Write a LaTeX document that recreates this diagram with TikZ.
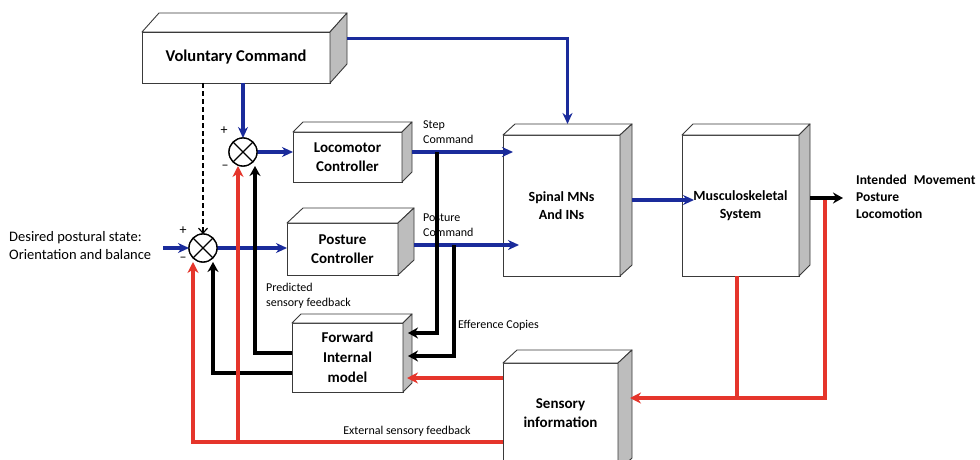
\documentclass[tikz,border=0pt]{standalone}
\usepackage{fontspec}
\setmainfont{Carlito}
\usetikzlibrary{arrows.meta,calc}
\definecolor{cblue}{HTML}{1A2B9B}
\definecolor{cred}{HTML}{E5352B}
\definecolor{cside}{HTML}{BDBDBD}
\definecolor{cedge}{HTML}{3A3A3A}
\newcommand\cubefaces[3]{%
 \draw[faceedge,fill=white] (#1.north west) -- ++(#2,-#3) -- ([shift={(#2,-#3)}]#1.north east) -- (#1.north east) -- cycle;
 \draw[faceedge,fill=cside] (#1.north east) -- ++(#2,-#3) -- ([shift={(#2,-#3)}]#1.south east) -- (#1.south east) -- cycle;}
\begin{document}
\begin{tikzpicture}[x=1pt,y=-1pt,
  box/.style={draw=cedge, line width=0.9pt, fill=white, inner sep=0pt, outer sep=0pt, align=center, font=\fontsize{15}{19}\selectfont\bfseries},
  faceedge/.style={draw=cedge, line width=0.9pt, line join=round},
  sumnode/.style={circle, draw=black, line width=1.3pt, minimum size=28pt, inner sep=0pt, outer sep=0pt, fill=white},
  blueln/.style={draw=cblue, line width=3.2pt},
  bluearr/.style={blueln, -{Stealth[length=11pt,width=10pt]}},
  blackln/.style={draw=black, line width=3.5pt},
  blackarr/.style={blackln, -{Stealth[length=10pt,width=11pt]}},
  redln/.style={draw=cred, line width=3.5pt},
  redarr/.style={redln, -{Stealth[length=11pt,width=11pt]}},
  lbl/.style={font=\fontsize{12}{15}\selectfont, align=left, inner sep=0pt},
  sign/.style={font=\fontsize{14}{14}\selectfont, inner sep=0pt}
]
\useasboundingbox[fill=white] (0,0) rectangle (980,460);

% boxes
\node[box, minimum width=188pt, minimum height=51pt, font=\fontsize{16.5}{19}\selectfont\bfseries] (vc) at (236,57.5) {Voluntary Command};
\cubefaces{vc}{17}{19}
\node[box, minimum width=109pt, minimum height=50pt] (loco) at (347.5,157) {Locomotor\\Controller};
\cubefaces{loco}{10}{10}
\node[box, minimum width=111pt, minimum height=52pt] (post) at (342.5,249) {Posture\\Controller};
\cubefaces{post}{16}{15}
\node[box, minimum width=111pt, minimum height=69pt, font=\fontsize{15}{20}\selectfont\bfseries] (fwd) at (347.5,357.5) {Forward\\Internal\\model};
\cubefaces{fwd}{9}{9}
\node[box, minimum width=117pt, minimum height=141pt, font=\fontsize{14}{18}\selectfont\bfseries] (spinal) at (561.5,205.5) {Spinal MNs\\And INs};
\cubefaces{spinal}{12}{11}
\node[box, minimum width=117pt, minimum height=141pt, font=\fontsize{14}{18}\selectfont\bfseries] (musc) at (740.5,205.5) {Musculoskeletal\\System};
\cubefaces{musc}{11}{11}
\node[box, minimum width=115pt, minimum height=108pt, text depth=8pt] (sens) at (560.5,417) {Sensory\\information};
\cubefaces{sens}{14}{13}

% sum junctions (positions only)
\coordinate (s1c) at (243,152);
\coordinate (s2c) at (203,248);
\node[sumnode] (s1) at (s1c) {};
\node[sumnode] (s2) at (s2c) {};

% blue connectors
\coordinate (din) at (163,248);
\draw[bluearr] (vc.south -| s1.north) -- (s1.north);
\draw[bluearr] ([shift={(17,-19)}]vc.east) -| ([shift={(6,-11)}]spinal.north);
\draw[bluearr] (s1.east) -- (s1.east -| loco.west);
\draw[bluearr] (s2.east) -- (s2.east -| post.west);
\draw[bluearr] (din) -- (s2.west);
\draw[bluearr] ([shift={(10,-5)}]loco.east) -- ([shift={(10,-5)}]loco.east -| spinal.west);
\draw[bluearr] ([shift={(16,-4)}]post.east) -- ([shift={(16,-4)}]post.east -| spinal.west);
\draw[bluearr] ([shift={(12,-5.5)}]spinal.east) -- ([shift={(12,-5.5)}]spinal.east -| musc.west);

% dashed
\draw[line width=1.2pt, dash pattern=on 5pt off 3pt, -{Straight Barb[length=5pt,width=9pt]}] (vc.south -| s2.north) -- (s2.north);

% black connectors
\coordinate (ej1) at (437,152);
\coordinate (ej2) at (454,245);
\draw[blackarr] (ej1) |- ([shift={(5,-24.5)}]fwd.east);
\draw[blackarr] (ej2) |- ([shift={(5,-1.5)}]fwd.east);
\draw[blackarr] ([shift={(0,-4.5)}]fwd.west) -| ([shift={(12,0)}]s1.south);
\draw[blackarr] ([shift={(0,15.5)}]fwd.west) -| ([shift={(10,0)}]s2.south);

% red connectors
\coordinate (rj) at (238,442);
\coordinate (rj2) at (825,198);
\draw[redarr] ([shift={(0,-39)}]sens.west) -- ([shift={(4,20.5)}]fwd.east);
\draw[redarr] ([shift={(0,25)}]sens.west) -| ([shift={(-10,0)}]s2.south);
\draw[redarr] (rj) -- ([shift={(-5,0)}]s1.south);
\draw[redarr] (rj2) |- ([shift={(12,-19)}]sens.east);
\draw[redln] ([shift={(-3.5,0)}]musc.south) -- ++(0,122);

% output
\draw[blackarr] ([shift={(11,-7.5)}]musc.east) -- ++(33,0) coordinate (outp);

% sums on top
\node[sumnode] at (s1c) {};
\node[sumnode] at (s2c) {};
\draw[line width=1.2pt] (s1.45) -- (s1.225) (s1.135) -- (s1.315);
\draw[line width=1.2pt] (s2.45) -- (s2.225) (s2.135) -- (s2.315);

% labels
\node[sign] (p1) at (224,131) {+};
\node[sign] (m1) at (225,167) {–};
\node[sign] (p2) at (183,231) {+};
\node[sign] (m2) at (183,259) {–};
\node[lbl, anchor=west] (stepl) at (423,132) {Step\\Command};
\node[lbl, anchor=west] (postl) at (423,225) {Posture\\Command};
\node[lbl, anchor=west] (predl) at (266,296) {Predicted\\sensory feedback};
\node[lbl, anchor=west] (effl) at (458,325) {Efference Copies};
\node[lbl] (extl) at (407,431) {External sensory feedback};
\node[lbl, anchor=west, font=\fontsize{14.5}{18}\selectfont] (desl) at (9,246) {Desired postural state:\\Orientation and balance};
\node[lbl, anchor=west, font=\fontsize{13.5}{17}\selectfont\bfseries] (intl) at (856,197) {Intended\hspace{4pt} Movement\\Posture\\Locomotion};
\end{tikzpicture}
\end{document}
